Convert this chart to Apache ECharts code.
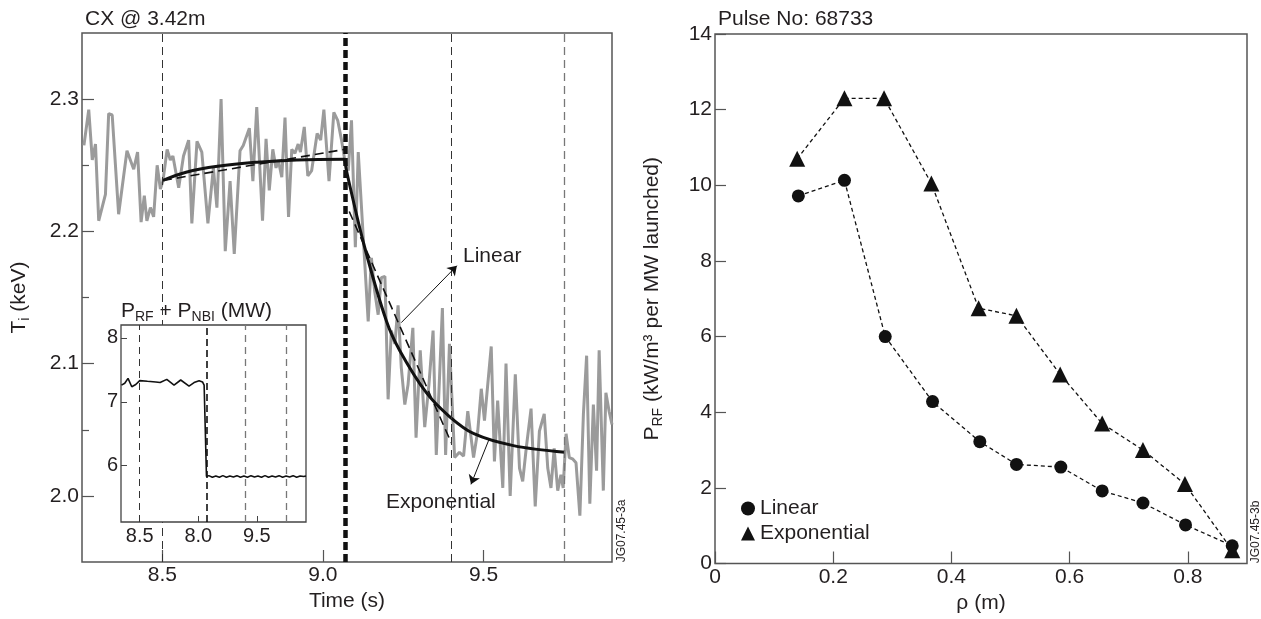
<!DOCTYPE html>
<html><head><meta charset="utf-8">
<script src="https://cdn.jsdelivr.net/npm/echarts@6/dist/echarts.min.js"></script>
<style>html,body{margin:0;padding:0;background:#fff}#c{width:1261px;height:619px}</style>
</head><body><div id="c"></div>
<script>
// ---------- Left panel: CX Ti trace ----------
const tiTime = [8.256,8.271,8.282,8.292,8.302,8.323,8.333,8.344,8.364,8.390,8.411,8.423,8.434,8.444,8.452,8.463,8.473,8.484,8.494,8.502,8.515,8.525,8.533,8.551,8.566,8.582,8.592,8.608,8.623,8.642,8.659,8.670,8.683,8.696,8.711,8.724,8.742,8.752,8.771,8.782,8.794,8.812,8.823,8.833,8.844,8.854,8.861,8.872,8.882,8.893,8.903,8.913,8.923,8.930,8.942,8.953,8.965,8.982,8.993,9.003,9.019,9.034,9.046,9.058,9.068,9.079,9.089,9.101,9.110,9.125,9.141,9.151,9.161,9.172,9.182,9.193,9.203,9.213,9.224,9.234,9.244,9.255,9.265,9.280,9.290,9.303,9.317,9.330,9.343,9.353,9.372,9.382,9.394,9.410,9.425,9.438,9.451,9.469,9.482,9.493,9.503,9.524,9.534,9.544,9.560,9.570,9.583,9.599,9.612,9.622,9.633,9.648,9.661,9.674,9.689,9.700,9.710,9.720,9.731,9.741,9.748,9.757,9.767,9.777,9.788,9.800,9.811,9.821,9.831,9.842,9.852,9.860,9.873,9.881,9.891,9.900];
const tiValue = [2.265,2.292,2.254,2.266,2.208,2.228,2.289,2.288,2.213,2.261,2.247,2.260,2.207,2.227,2.208,2.218,2.211,2.250,2.232,2.238,2.262,2.254,2.257,2.233,2.257,2.269,2.206,2.268,2.260,2.206,2.248,2.218,2.300,2.185,2.238,2.183,2.261,2.265,2.278,2.238,2.294,2.208,2.270,2.231,2.262,2.248,2.254,2.241,2.286,2.211,2.262,2.259,2.266,2.260,2.279,2.242,2.246,2.274,2.269,2.292,2.238,2.290,2.284,2.269,2.254,2.246,2.284,2.188,2.260,2.198,2.132,2.180,2.155,2.137,2.165,2.166,2.073,2.125,2.115,2.144,2.097,2.069,2.084,2.127,2.044,2.110,2.052,2.084,2.125,2.031,2.142,2.031,2.115,2.029,2.033,2.030,2.064,2.029,2.049,2.081,2.057,2.113,2.026,2.072,2.006,2.100,2.000,2.092,2.021,2.011,2.036,2.066,1.992,2.049,2.062,2.021,2.006,2.036,2.004,2.016,2.006,2.047,2.029,2.028,2.025,1.985,2.062,2.106,1.994,2.069,2.019,2.110,2.004,2.078,2.064,2.054];

const expPreTime  = [8.502,8.574,8.672,8.795,8.918,9.068];
const expPreValue = [2.2385,2.2447,2.2492,2.2523,2.2540,2.2545];
const linPreTime  = [8.502,9.068];
const linPreValue = [2.2385,2.2620];
const expPostTime  = [9.068,9.075,9.130,9.198,9.239,9.322,9.394,9.470,9.593,9.753];
const expPostValue = [2.2545,2.2440,2.1880,2.1320,2.1100,2.0780,2.0600,2.0470,2.0380,2.0330];
const linPostTime  = [9.082,9.400];
const linPostValue = [2.215,2.040];

const switchTimes = [8.5, 9.07, 9.4, 9.75];
const timeTicks = [8.5, 9.0, 9.5];
const tiTicks = [2.0, 2.1, 2.2, 2.3];
const tiMinorTicks = [2.05, 2.15, 2.25];
const linearArrow = [[9.244, 2.131], [9.417, 2.174]];
const expArrow = [[9.517, 2.0426], [9.461, 2.0087]];

// ---------- Inset: P_RF + P_NBI ----------
const insetTime  = [8.344,8.372,8.400,8.432,8.466,8.500,8.566,8.637,8.674,8.731,8.793,8.850,8.921,8.964,9.007,9.036,9.050,9.070,9.090,9.120,9.150,9.180,9.210,9.240,9.270,9.300,9.330,9.360,9.390,9.420,9.450,9.480,9.510,9.540,9.570,9.600,9.630,9.660,9.690,9.720,9.750,9.780,9.810,9.840,9.870,9.900,9.920];
const insetPower = [7.26,7.29,7.365,7.235,7.27,7.33,7.32,7.31,7.30,7.35,7.26,7.34,7.245,7.30,7.33,7.31,7.26,5.83,5.845,5.82,5.84,5.82,5.845,5.82,5.84,5.825,5.845,5.82,5.84,5.82,5.845,5.825,5.84,5.82,5.845,5.82,5.84,5.825,5.845,5.82,5.84,5.825,5.845,5.82,5.84,5.83,5.84];
const insetTicks = [8.5, 9.0, 9.5];
const insetTickLabels = ['8.5', '8.0', '9.5'];
const insetPowerTicks = [6, 7, 8];

// ---------- Right panel: power density profiles ----------
const rhoLinear = [0.141,0.219,0.288,0.368,0.448,0.510,0.585,0.655,0.724,0.796,0.875];
const pLinear   = [9.72,10.13,6.00,4.28,3.22,2.62,2.55,1.92,1.60,1.02,0.47];
const rhoExp    = [0.139,0.219,0.286,0.366,0.446,0.510,0.584,0.655,0.724,0.795,0.875];
const pExp      = [10.70,12.30,12.30,10.05,6.75,6.55,5.00,3.70,3.00,2.10,0.35];
const rhoTicks = [0, 0.2, 0.4, 0.6, 0.8];

const FONT = "'Liberation Sans', Arial, Helvetica, sans-serif";
const TXT = '#231f20';
const AX = '#555';
const zip = (a, b) => a.map((v, i) => [v, b[i]]);

const chart = echarts.init(document.getElementById('c'), null, {renderer: 'canvas'});

function axisBase(extra) {
  return Object.assign({
    type: 'value',
    axisLine: {show: false},
    splitLine: {show: false},
    nameTextStyle: {fontFamily: FONT, fontSize: 21, color: TXT},
  }, extra);
}
const richName = {
  n: {fontFamily: FONT, fontSize: 21, color: TXT, lineHeight: 26, verticalAlign: 'middle'},
  s: {fontFamily: FONT, fontSize: 14, color: TXT, lineHeight: 14, verticalAlign: 'bottom'}
};

const option = {
  animation: false,
  backgroundColor: '#fff',
  textStyle: {fontFamily: FONT},
  grid: [
    {left: 82, top: 33, width: 530, height: 529, show: true, borderColor: AX, borderWidth: 1.5, backgroundColor: 'transparent', outerBoundsMode: 'none'},
    {left: 121, top: 325, width: 185, height: 197, show: true, borderColor: '#444', borderWidth: 1.3, backgroundColor: '#fff', zlevel: 1, outerBoundsMode: 'none'},
    {left: 715, top: 34, width: 532, height: 529.5, show: true, borderColor: AX, borderWidth: 1.5, backgroundColor: 'transparent', outerBoundsMode: 'none'}
  ],
  xAxis: [
    axisBase({gridIndex: 0, min: 8.25, max: 9.9,
      axisTick: {inside: true, length: 12, customValues: timeTicks, lineStyle: {color: AX, width: 1.2}},
      axisLabel: {customValues: timeTicks, formatter: v => v.toFixed(1), fontSize: 21, color: TXT, margin: 3, fontFamily: FONT},
      name: 'Time (s)', nameLocation: 'middle', nameGap: 27}),
    axisBase({gridIndex: 1, min: 8.34, max: 9.92, zlevel: 1,
      axisTick: {inside: true, length: 6, customValues: insetTicks, lineStyle: {color: '#444', width: 1}},
      axisLabel: {customValues: insetTicks, formatter: v => insetTickLabels[insetTicks.findIndex(t => Math.abs(t - v) < 1e-6)] || '', fontSize: 20, color: TXT, margin: 4, fontFamily: FONT}}),
    axisBase({gridIndex: 2, min: 0, max: 0.9,
      axisTick: {inside: true, length: 12, customValues: rhoTicks, lineStyle: {color: AX, width: 1.2}},
      axisLabel: {customValues: rhoTicks, formatter: v => v === 0 ? '0' : v.toFixed(1), fontSize: 21, color: TXT, margin: 3, fontFamily: FONT},
      name: 'ρ (m)', nameLocation: 'middle', nameGap: 29})
  ],
  yAxis: [
    axisBase({gridIndex: 0, position: 'left', min: 1.95, max: 2.35,
      axisTick: {inside: true, length: 12, customValues: tiTicks, lineStyle: {color: AX, width: 1.2}},
      axisLabel: {customValues: tiTicks, formatter: v => v.toFixed(1), fontSize: 21, color: TXT, margin: 3, fontFamily: FONT},
      name: '{n|T}{s|i}{n| (keV)}', nameLocation: 'middle', nameGap: 50,
      nameTextStyle: {rich: richName}}),
    axisBase({gridIndex: 0, position: 'left', offset: 0, min: 1.95, max: 2.35,
      axisTick: {inside: true, length: 7, customValues: tiMinorTicks, lineStyle: {color: AX, width: 1.2}},
      axisLabel: {show: false}}),
    axisBase({gridIndex: 1, min: 5.12, max: 8.2, zlevel: 1,
      axisTick: {inside: true, length: 6, customValues: insetPowerTicks, lineStyle: {color: '#444', width: 1}},
      axisLabel: {customValues: insetPowerTicks, formatter: v => String(v), fontSize: 20, color: TXT, margin: 3, fontFamily: FONT}}),
    axisBase({gridIndex: 2, min: 0, max: 14, interval: 2,
      axisTick: {inside: true, length: 11, lineStyle: {color: AX, width: 1.2}},
      axisLabel: {fontSize: 21, color: TXT, margin: 3, fontFamily: FONT},
      name: '{n|P}{s|RF}{n| (kW/m³ per MW launched)}', nameLocation: 'middle', nameGap: 50,
      nameTextStyle: {rich: richName}})
  ],
  legend: {
    left: 736, top: 493, orient: 'vertical', itemWidth: 14, itemHeight: 14, itemGap: 4,
    textStyle: {fontFamily: FONT, fontSize: 21, color: TXT},
    data: [{name: 'Linear', icon: 'circle'}, {name: 'Exponential', icon: 'triangle'}],
    selectedMode: false
  },
  series: [
    {type: 'line', xAxisIndex: 0, yAxisIndex: 0, data: zip(tiTime, tiValue), symbol: 'none',
     lineStyle: {color: '#9b9b9b', width: 3}, z: 2},
    {type: 'line', xAxisIndex: 0, yAxisIndex: 0, data: zip(linPreTime, linPreValue), symbol: 'none',
     lineStyle: {color: '#111', width: 1.6, type: [9, 5]}, z: 3},
    {type: 'line', xAxisIndex: 0, yAxisIndex: 0, data: zip(linPostTime, linPostValue), symbol: 'none',
     lineStyle: {color: '#111', width: 1.6, type: [9, 5]}, z: 3},
    {type: 'line', xAxisIndex: 0, yAxisIndex: 0, data: zip(expPreTime, expPreValue), symbol: 'none', smooth: 0.4,
     lineStyle: {color: '#111', width: 3}, z: 4},
    {type: 'line', xAxisIndex: 0, yAxisIndex: 0, data: zip(expPostTime, expPostValue), symbol: 'none', smooth: 0.35,
     lineStyle: {color: '#111', width: 3}, z: 4,
     markLine: {silent: true, symbol: ['none', 'none'], label: {show: false}, animation: false,
       data: [
         {xAxis: switchTimes[0], lineStyle: {color: '#333', width: 1, type: [8, 5]}},
         {xAxis: switchTimes[1], lineStyle: {color: '#111', width: 4.5, type: [8, 4]}},
         {xAxis: switchTimes[2], lineStyle: {color: '#333', width: 1, type: [8, 5]}},
         {xAxis: switchTimes[3], lineStyle: {color: '#777', width: 1.3, type: [8, 5]}}
       ]}},
    {type: 'line', xAxisIndex: 0, yAxisIndex: 0, data: [], symbol: 'none', z: 5,
     markLine: {silent: true, symbol: ['none', 'arrow'], symbolSize: 9, label: {show: false}, animation: false,
       lineStyle: {color: '#111', width: 1, type: 'solid'},
       data: [
         [{coord: linearArrow[0]}, {coord: linearArrow[1]}],
         [{coord: expArrow[0]}, {coord: expArrow[1]}]
       ]}},
    // inset
    {type: 'line', xAxisIndex: 1, yAxisIndex: 2, data: zip(insetTime, insetPower), symbol: 'none', zlevel: 1, z: 6,
     lineStyle: {color: '#111', width: 1.6},
     markLine: {silent: true, zlevel: 1, z: 5, symbol: ['none', 'none'], label: {show: false}, animation: false,
       data: [
         {xAxis: switchTimes[0], lineStyle: {color: '#333', width: 1, type: [7, 5]}},
         {xAxis: switchTimes[1], lineStyle: {color: '#111', width: 1.6, type: [7, 4]}},
         {xAxis: switchTimes[2], lineStyle: {color: '#777', width: 1.3, type: [7, 5]}},
         {xAxis: switchTimes[3], lineStyle: {color: '#777', width: 1.3, type: [7, 5]}}
       ]}},
    // right panel
    {name: 'Linear', type: 'line', xAxisIndex: 2, yAxisIndex: 3, data: zip(rhoLinear, pLinear),
     symbol: 'circle', symbolSize: 13, itemStyle: {color: '#111'},
     lineStyle: {color: '#111', width: 1.3, type: [4, 3]}},
    {name: 'Exponential', type: 'line', xAxisIndex: 2, yAxisIndex: 3, data: zip(rhoExp, pExp),
     symbol: 'triangle', symbolSize: 16, itemStyle: {color: '#111'},
     lineStyle: {color: '#111', width: 1.3, type: [4, 3]}}
  ],
  graphic: [
    {type: 'text', x: 85, y: 19.5, style: {text: 'CX @ 3.42m', fontFamily: FONT, fontSize: 21, fill: TXT, align: 'left', verticalAlign: 'middle'}},
    {type: 'text', x: 718, y: 19.5, style: {text: 'Pulse No: 68733', fontFamily: FONT, fontSize: 21, fill: TXT, align: 'left', verticalAlign: 'middle'}},
    {type: 'text', x: 463, y: 256, style: {text: 'Linear', fontFamily: FONT, fontSize: 21, fill: TXT, align: 'left', verticalAlign: 'middle'}},
    {type: 'text', x: 386, y: 502, style: {text: 'Exponential', fontFamily: FONT, fontSize: 21, fill: TXT, align: 'left', verticalAlign: 'middle'}},
    {type: 'text', x: 121, y: 311, style: {text: '{n|P}{s|RF}{n| + P}{s|NBI}{n| (MW)}', fontFamily: FONT, fontSize: 21, fill: TXT, align: 'left', verticalAlign: 'middle', rich: richName}},
    {type: 'text', x: 622, y: 531, rotation: Math.PI / 2, style: {text: 'JG07.45-3a', fontFamily: FONT, fontSize: 12, fill: TXT, align: 'center', verticalAlign: 'middle'}},
    {type: 'text', x: 1256, y: 532, rotation: Math.PI / 2, style: {text: 'JG07.45-3b', fontFamily: FONT, fontSize: 12, fill: TXT, align: 'center', verticalAlign: 'middle'}}
  ]
};
chart.setOption(option);
</script>
</body></html>
